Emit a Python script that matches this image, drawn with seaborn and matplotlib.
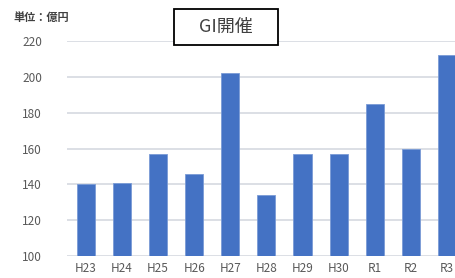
import matplotlib
matplotlib.use("Agg")
import matplotlib.pyplot as plt
from matplotlib.patches import Rectangle
import seaborn as sns
import pandas as pd

years = ["H23", "H24", "H25", "H26", "H27", "H28", "H29", "H30", "R1", "R2", "R3"]
values = [140, 141, 157, 146, 202, 134, 157, 157, 185, 160, 212]
yticks = [100, 120, 140, 160, 180, 200, 220]
unit_label = "単位：億円"
box_label = "GI開催"

sns.set_theme(style="white")
plt.rcParams['font.family'] = ['Noto Sans CJK JP', 'DejaVu Sans']

df = pd.DataFrame({"year": years, "value": values})

fig = plt.figure(figsize=(4.56, 2.78), dpi=100)
ax = fig.add_axes([67/456, 22/278, 1 - 67/456, (256-41)/278])

ax.yaxis.grid(True, color="#dcdfe5", linewidth=1.4)
ax.set_axisbelow(True)
sns.barplot(data=df, x="year", y="value", color="#4472C4", saturation=1,
            width=0.5, ax=ax, edgecolor="#7a9bd6", linewidth=0.6)

ax.set_ylim(100, 220)
ax.set_yticks(yticks)
ax.set_xlim(-0.52, 10.25)
for s in ax.spines.values():
    s.set_visible(False)
ax.set_xlabel("")
ax.set_ylabel("")
ax.tick_params(axis="both", length=0, labelsize=8.5, colors="#595959", pad=2)
ax.tick_params(axis="y", pad=18)
ax.tick_params(axis="x", pad=4)

fig.text(13/456, 1 - 17/278, unit_label, fontsize=8, fontweight="bold",
         color="#404040", va="center", ha="left")
rect = Rectangle((174/456, 1 - 45/278), 104/456, 36/278, transform=fig.transFigure,
                 facecolor="white", edgecolor="black", linewidth=1.3, zorder=5)
fig.patches.append(rect)
fig.text(226/456, 1 - 27/278, box_label, fontsize=13, color="#404040",
         va="center", ha="center", zorder=6)

fig.savefig("out.png", dpi=100)
